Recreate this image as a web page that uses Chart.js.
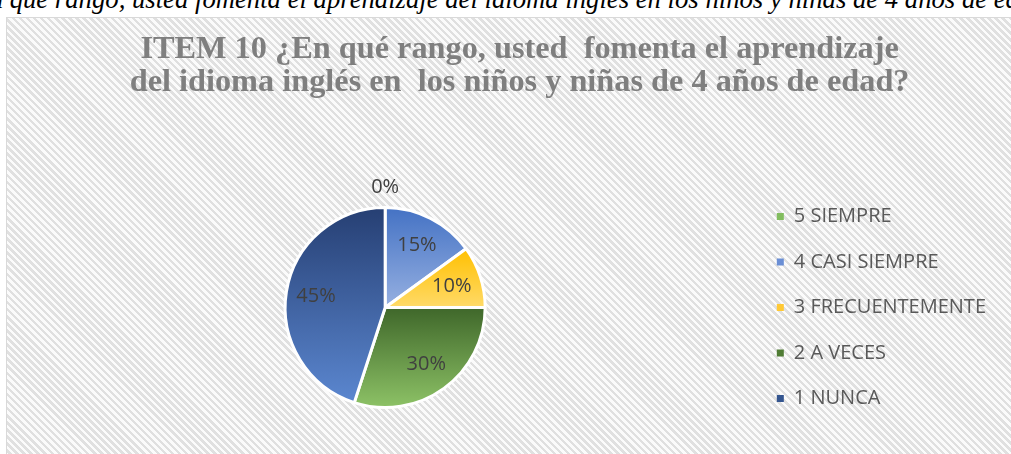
<!DOCTYPE html>
<html>
<head>
<meta charset="utf-8">
<script src="https://cdn.jsdelivr.net/npm/chart.js@4"></script>
<style>
  html, body { margin: 0; padding: 0; background: #fff; overflow: hidden; }
  body { width: 1011px; height: 454px; position: relative; }
  #caption {
    position: absolute; top: -14.5px; left: -40px; white-space: nowrap;
    font: italic 26.7px "Liberation Serif", "Times New Roman", serif; line-height: 27px;
    color: #000; z-index: 2;
  }
  #box {
    position: absolute; left: 6px; top: 17px; width: 1100px; height: 500px;
    border: 1.5px solid #d9d9d9; box-sizing: border-box;
    background: repeating-linear-gradient(45deg, #e0e0e0 0 2.5px, #fbfbfb 2.5px 5px);
  }
  #wrap { position: absolute; left: 6px; top: 17px; width: 1028px; height: 437px; }
</style>
</head>
<body>
<div id="caption">¿En qué rango, usted fomenta el aprendizaje del idioma inglés en los niños y niñas de 4 años de edad?</div>
<div id="box"></div>
<div id="wrap"><canvas id="pieChart"></canvas></div>
<script>
// chart data
const categories = ['5 SIEMPRE', '4 CASI SIEMPRE', '3 FRECUENTEMENTE', '2 A VECES', '1 NUNCA'];
const percents = [0, 15, 10, 30, 45];
// leading nbsp's nudge the centred title right, the legend eats into the width
const titleLines = ['\u00a0\u00a0\u00a0ITEM 10 ¿En qué rango, usted  fomenta el aprendizaje', '\u00a0\u00a0\u00a0del idioma inglés en  los niños y niñas de 4 años de edad?'];

// colours (top of slice -> bottom of slice), plus flat legend swatches
const topColors = ['#5f9a3a', '#4472c4', '#ffc000', '#3f672a', '#263f73'];
const bottomColors = ['#9ccc7d', '#96b0e1', '#ffda68', '#8dc266', '#5b87d0'];
const legendColors = ['#82bd5f', '#6b8fd5', '#ffc935', '#507c35', '#34558f'];

// vertical gradient across each slice's own bounding box
function sliceFill(context) {
    const chart = context.chart;
    const i = context.dataIndex;
    const area = chart.chartArea;
    const ctrl = chart.getDatasetMeta(0).controller;
    if (!area || !ctrl.outerRadius) return topColors[i];
    const cx = (area.left + area.right) / 2 + (ctrl.offsetX || 0);
    const cy = (area.top + area.bottom) / 2 + (ctrl.offsetY || 0);
    const r = ctrl.outerRadius;
    const total = percents.reduce((a, b) => a + b, 0);
    let before = 0;
    for (let k = 0; k < i; k++) before += percents[k];
    const start = -Math.PI / 2 + before / total * Math.PI * 2;
    const end = start + percents[i] / total * Math.PI * 2;
    const ys = [cy, cy + r * Math.sin(start), cy + r * Math.sin(end)];
    [-Math.PI / 2, Math.PI / 2, Math.PI * 1.5].forEach(a => {
        if (a > start && a < end) ys.push(cy + r * Math.sin(a));
    });
    const top = Math.min(...ys), bottom = Math.max(...ys);
    if (bottom - top < 1) return topColors[i];
    const g = chart.ctx.createLinearGradient(0, top, 0, bottom);
    g.addColorStop(0, topColors[i]);
    g.addColorStop(1, bottomColors[i]);
    return g;
}

// percentage labels, inside the slice (outside when the slice is empty)
const pctLabels = {
    id: 'pctLabels',
    afterDatasetsDraw(chart) {
        const ctx = chart.ctx;
        const meta = chart.getDatasetMeta(0);
        ctx.save();
        ctx.font = '20px "Open Sans", sans-serif';
        ctx.fillStyle = '#404040';
        ctx.textAlign = 'center';
        ctx.textBaseline = 'middle';
        meta.data.forEach((arc, i) => {
            const p = arc.getProps(['x', 'y', 'startAngle', 'endAngle', 'outerRadius'], true);
            const mid = (p.startAngle + p.endAngle) / 2;
            const dist = percents[i] === 0 ? p.outerRadius + 20 : p.outerRadius * 0.7;
            ctx.fillText(percents[i] + '%', p.x + Math.cos(mid) * dist, p.y + Math.sin(mid) * dist);
        });
        ctx.restore();
    }
};

new Chart(document.getElementById('pieChart'), {
    type: 'pie',
    data: {
        labels: categories,
        datasets: [{
            data: percents,
            backgroundColor: sliceFill,
            borderColor: '#ffffff',
            borderWidth: 3,
            radius: 100
        }]
    },
    options: {
        responsive: true,
        maintainAspectRatio: false,
        animation: false,
        events: [],
        layout: { padding: { left: 13, right: 38, top: 0, bottom: 5 } },
        plugins: {
            title: {
                display: true,
                text: titleLines,
                color: '#7f7f7f',
                font: { family: '"Liberation Serif", "Times New Roman", serif', size: 32.3, weight: 'bold', lineHeight: 1.031 },
                padding: { top: 16, bottom: 66.4 }
            },
            legend: {
                position: 'right',
                fullSize: false,
                labels: {
                    boxWidth: 7,
                    boxHeight: 7,
                    padding: 25.5,
                    color: '#595959',
                    font: { family: '"Open Sans", sans-serif', size: 20 },
                    generateLabels(chart) {
                        return categories.map((c, i) => ({
                            text: c,
                            fillStyle: legendColors[i],
                            strokeStyle: legendColors[i],
                            lineWidth: 0,
                            fontColor: '#595959',
                            hidden: false,
                            index: i
                        }));
                    }
                }
            },
            tooltip: { enabled: false }
        }
    },
    plugins: [pctLabels]
});
</script>
</body>
</html>
